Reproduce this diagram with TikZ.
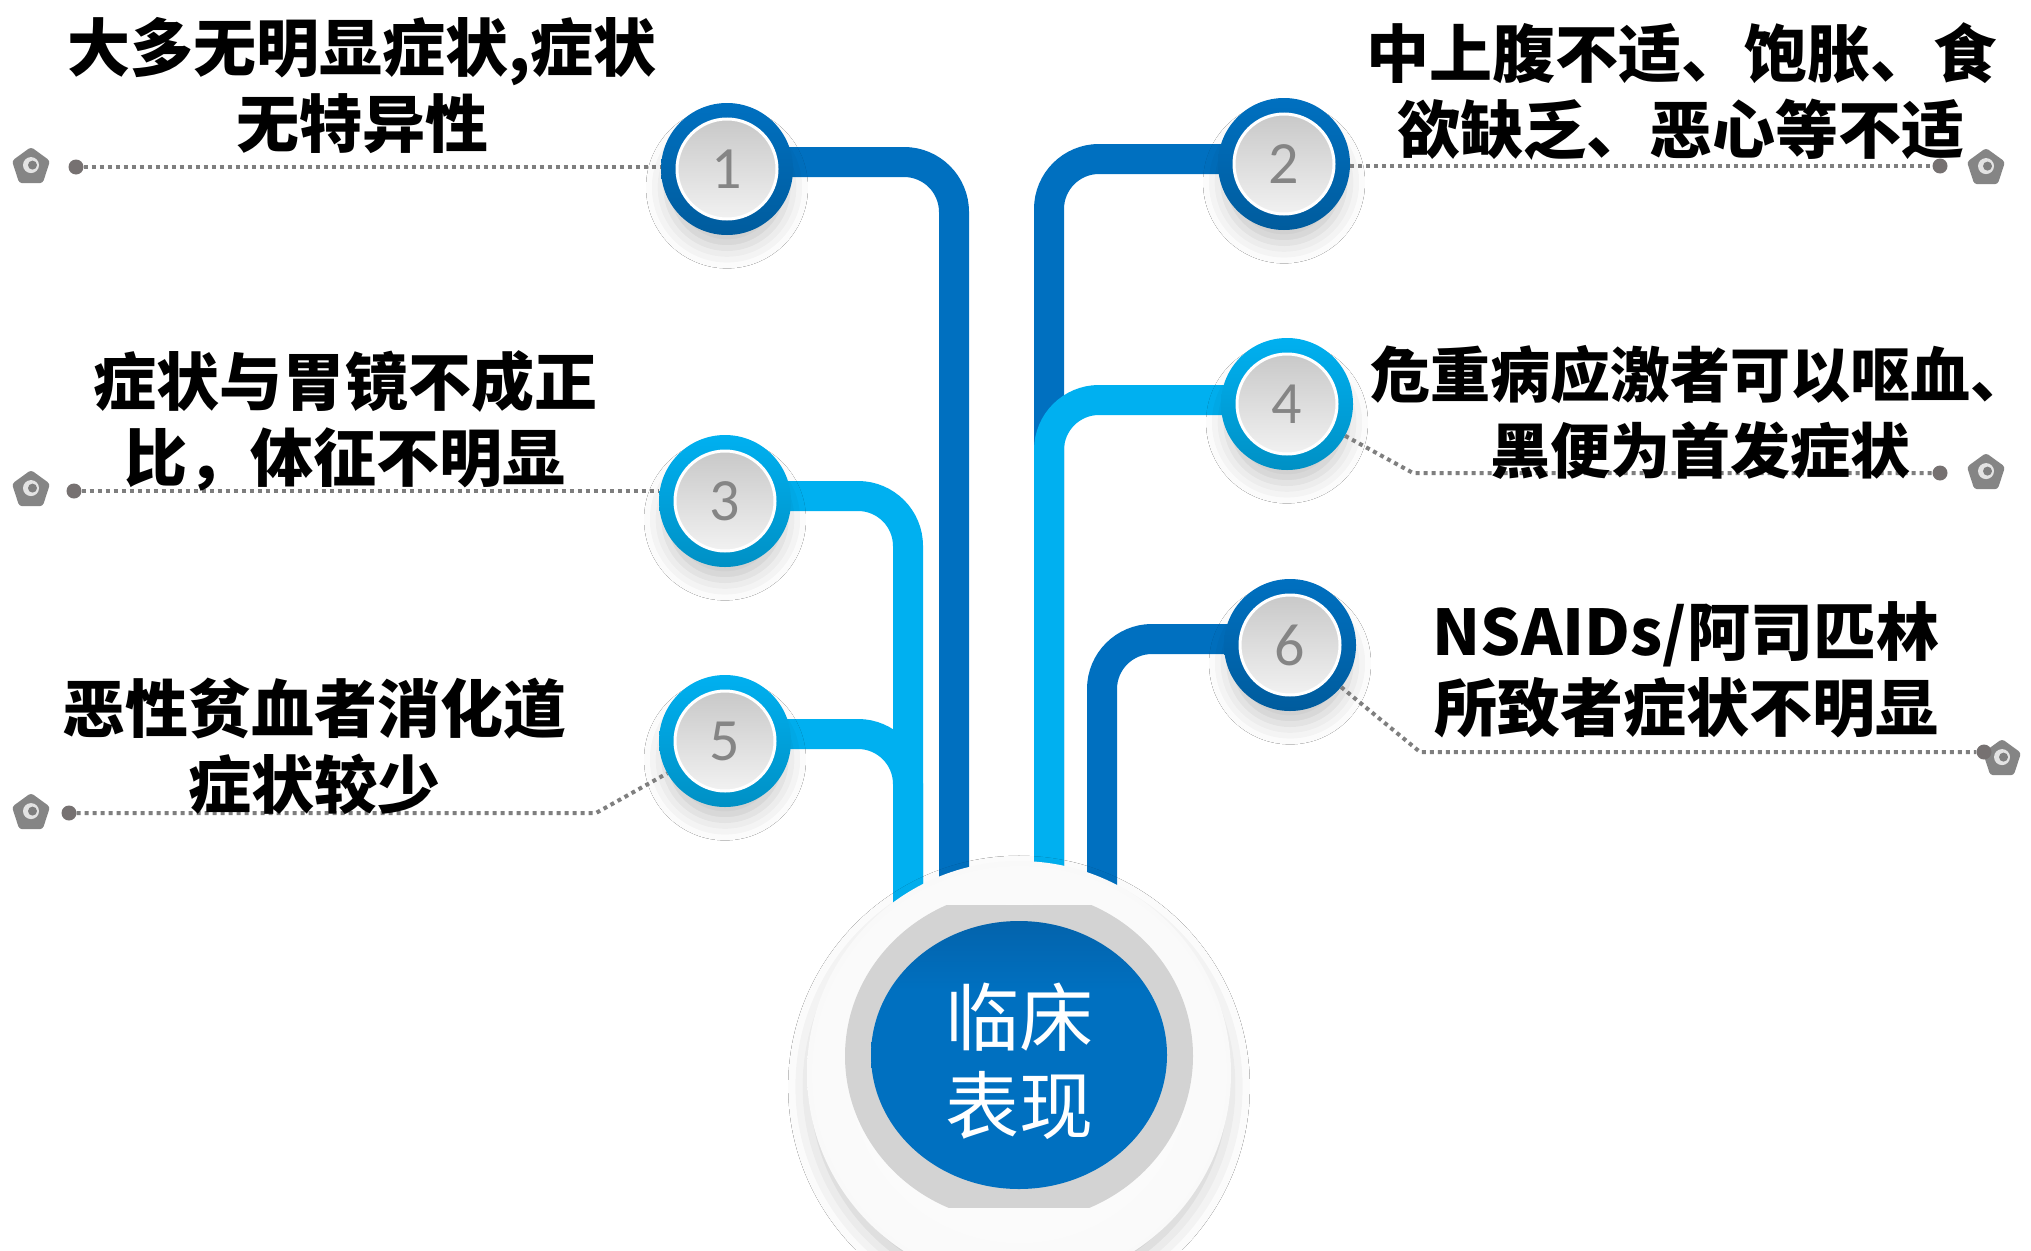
\documentclass[tikz,border=0pt]{standalone}
\usepackage{fontspec}
\newfontfamily\cjk{Noto Sans CJK SC}
\newfontfamily\numfont{Carlito}
\usetikzlibrary{shapes.geometric,shadows.blur}
\definecolor{dkblue}{HTML}{0070C0}
\definecolor{ltblue}{HTML}{00B0F0}
\definecolor{guidegray}{HTML}{7F7F7F}
\definecolor{dotgray}{HTML}{767171}
\definecolor{numgray}{HTML}{858585}
\definecolor{disctop}{HTML}{C2C2C2}
\definecolor{discbot}{HTML}{F8F8F8}
\definecolor{ringgray}{HTML}{D3D3D3}
\definecolor{darkb}{HTML}{0A4A85}
\pgfdeclareverticalshading{blueel}{100bp}{color(0bp)=(dkblue); color(62bp)=(dkblue); color(100bp)=(darkb)}
\pgfdeclareradialshading{outerdisc}{\pgfpoint{0bp}{0bp}}{color(0bp)=(white); color(34bp)=(white!97!black); color(50bp)=(white!88!black)}
\tikzset{
  badge/.style={circle, minimum size=132pt, inner sep=0pt, top color=#1, bottom color=#1!82!black,
    blur shadow={shadow xshift=0pt, shadow yshift=-20pt, shadow scale=0.92, shadow blur radius=22pt, shadow opacity=22},
    path picture={\shade[top color=disctop, bottom color=discbot] (path picture bounding box.center) circle (50pt);
      \draw[white, line width=3pt] (path picture bounding box.center) circle (50pt);},
    font=\numfont\fontsize{60}{60}\selectfont, text=numgray},
  pent/.style={regular polygon, regular polygon sides=5, minimum size=40pt, inner sep=0pt,
    fill=guidegray!95, rounded corners=3pt,
    path picture={\fill[white!78!gray] (path picture bounding box.center) circle (8pt);
      \fill[guidegray] ([xshift=1.5pt]path picture bounding box.center) circle (4.5pt);}},
  gdot/.style={circle, fill=dotgray, minimum size=15pt, inner sep=0pt},
  guide/.style={draw=guidegray, line width=4pt, dash pattern=on 4pt off 4pt},
  dkline/.style={draw=dkblue, line width=30pt, rounded corners=50pt},
  ltline/.style={draw=ltblue, line width=30pt, rounded corners=50pt},
  lbl/.style={font=\cjk\bfseries\fontsize{63}{76}\selectfont, align=center, inner sep=0pt, text=black},
}
\begin{document}
\begin{tikzpicture}[x=1pt,y=-1pt]
\useasboundingbox (0,0) rectangle (2031,1250);
\fill[white] (0,0) rectangle (2031,1250);

% badge positions and line ends
\coordinate (p1) at (727,169);
\coordinate (p2) at (1284,164);
\coordinate (p3) at (725,501);
\coordinate (p4) at (1287,404);
\coordinate (p5) at (725,741);
\coordinate (p6) at (1290,645);
\coordinate (e1) at (954,960);
\coordinate (e2) at (1049,960);
\coordinate (e3) at (908,960);
\coordinate (e6) at (1102,960);

% blue connector lines
\draw[dkline] (p1) ++(0,-7) -| (e1);
\draw[dkline] (p2) ++(0,-5) -| (e2);
\draw[ltline] (p4) ++(0,-4) -| (e2);
\draw[ltline] (p3) ++(0,-5) -| (e3);
\draw[ltline] (p5) ++(0,-7) -| (e3);
\draw[dkline] (p6) ++(0,-6) -| (e6);

% centre disc
\path[blur shadow={shadow xshift=0pt, shadow yshift=-14pt, shadow scale=0.97, shadow blur radius=26pt, shadow opacity=25},
      shading=outerdisc] (1019,1073) circle (212);
\begin{scope}
  \clip (820,905) rectangle (1220,1207);
  \fill[ringgray] (1019,1056) ellipse [x radius=174, y radius=166];
\end{scope}
\shade[shading=blueel] (1019,1055) ellipse [x radius=148, y radius=134];
\node[font=\cjk\fontsize{74}{88}\selectfont, text=white, align=center, inner sep=0pt] (ctr) at (1019,1061) {临床\\表现};

% badges
\node[badge=dkblue] (b1) at (p1) {1};
\node[badge=dkblue] (b2) at (p2) {2};
\node[badge=ltblue] (b3) at (p3) {3};
\node[badge=ltblue] (b4) at (p4) {4};
\node[badge=ltblue] (b5) at (p5) {5};
\node[badge=dkblue] (b6) at (p6) {6};

% guide lines
\node[pent] (m1) at (31,167) {};
\node[gdot] (d1) at (76,167) {};
\draw[guide] (d1) -- (d1 -| b1.west);
\node[pent] (m3) at (31,490) {};
\node[gdot] (d3) at (74,491) {};
\draw[guide] (d3) -- (d3 -| b3.west);
\node[pent] (m5) at (31,813) {};
\node[gdot] (d5) at (69,813) {};
\coordinate (c5) at (596,813);
\draw[guide] (d5) -- (c5) -- (b5);
\node[pent] (m2) at (1986,168) {};
\node[gdot] (d2) at (1940,166) {};
\draw[guide] (b2.east |- d2) -- (d2);
\node[pent] (m4) at (1986,473) {};
\node[gdot] (d4) at (1940,473) {};
\coordinate (c4) at (1413,473);
\draw[guide] (b4) -- (c4) -- (d4);
\node[pent] (m6) at (2002,759) {};
\node[gdot] (d6) at (1984,752) {};
\coordinate (c6) at (1420,752);
\draw[guide] (b6) -- (c6) -- (d6);

% labels
\node[lbl] (t1) at (362,86) {大多无明显症状,症状\\无特异性};
\node[lbl] (t2) at (1681,92) {中上腹不适、饱胀、食\\欲缺乏、恶心等不适};
\node[lbl] (t3) at (345,421) {症状与胃镜不成正\\比，体征不明显};
\node[lbl, font=\cjk\bfseries\fontsize{60}{76}\selectfont] (t4) at (1700,412) {危重病应激者可以呕血、\\黑便为首发症状};
\node[lbl] (t5) at (314,746) {恶性贫血者消化道\\症状较少};
\node[lbl] (t6) at (1686,670) {NSAIDs/阿司匹林\\所致者症状不明显};
\end{tikzpicture}
\end{document}
